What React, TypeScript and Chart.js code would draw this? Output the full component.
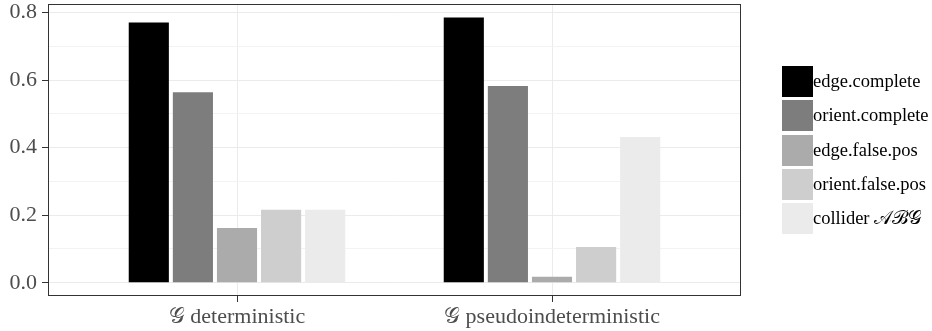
import React, { useEffect, useRef } from 'react';
import { Chart, registerables } from 'chart.js';

Chart.register(...registerables);

const categories = ['𝒢 deterministic', '𝒢 pseudoindeterministic'];
const seriesNames = ['edge.complete', 'orient.complete', 'edge.false.pos', 'orient.false.pos', 'collider 𝒜ℬ𝒢'];
const edgeComplete = [0.770, 0.785];
const orientComplete = [0.564, 0.582];
const edgeFalsePos = [0.162, 0.018];
const orientFalsePos = [0.216, 0.106];
const colliderABG = [0.216, 0.431];
const seriesColors = ['#000000', '#7d7d7d', '#ababab', '#cecece', '#ebebeb'];
const yMajorTicks = [0, 0.2, 0.4, 0.6, 0.8];
const yMinorTicks = [0.1, 0.3, 0.5, 0.7];

const FONT = '"Liberation Serif", "DejaVu Serif", serif';

const isMajor = (v: number) => yMajorTicks.some((m) => Math.abs(m - v) < 1e-6);

const panelAndLegend = {
  id: 'panelAndLegend',
  afterDraw(chart: any) {
    const { ctx, chartArea: ca } = chart;
    ctx.save();
    // panel border
    ctx.strokeStyle = '#333333';
    ctx.lineWidth = 1;
    ctx.strokeRect(Math.round(ca.left) + 0.5, Math.round(ca.top) + 0.5,
      Math.round(ca.right - ca.left) - 1, Math.round(ca.bottom - ca.top) - 1);
    // legend
    const key = 31;
    const gap = 3.3;
    const n = chart.data.datasets.length;
    const total = n * key + (n - 1) * gap;
    const x0 = ca.right + 41;
    const y0 = (ca.top + ca.bottom) / 2 - total / 2;
    ctx.font = `18.5px ${FONT}`;
    ctx.textBaseline = 'middle';
    ctx.textAlign = 'left';
    chart.data.datasets.forEach((ds: any, i: number) => {
      const y = Math.round(y0 + i * (key + gap));
      ctx.fillStyle = ds.backgroundColor;
      ctx.fillRect(x0, y, key, key);
      ctx.fillStyle = '#000000';
      ctx.fillText(ds.label, x0 + key, y + key / 2 + 1);
    });
    ctx.restore();
  },
};

export default function App() {
  const ref = useRef<HTMLCanvasElement | null>(null);
  useEffect(() => {
    const canvas = ref.current;
    if (!canvas) return;
    const seriesValues = [edgeComplete, orientComplete, edgeFalsePos, orientFalsePos, colliderABG];
    const chart = new Chart(canvas, {
      type: 'bar',
      data: {
        datasets: seriesValues.map((vals, i) => ({
          label: seriesNames[i],
          data: vals.map((v, j) => ({ x: j + 1, y: v })),
          backgroundColor: seriesColors[i],
          borderWidth: 0,
          categoryPercentage: 0.7,
          barPercentage: 0.91,
        })),
      },
      options: {
        animation: false,
        responsive: false,
        devicePixelRatio: 1,
        layout: { padding: { top: 4, right: 191, left: 0, bottom: 0 } },
        plugins: { legend: { display: false }, tooltip: { enabled: false } },
        scales: {
          x: {
            type: 'linear',
            bounds: 'data',
            offset: false,
            min: 0.4,
            max: 2.6,
            afterBuildTicks: (s: any) => {
              s.ticks = categories.map((_, j) => ({ value: j + 1 }));
            },
            afterFit: (s: any) => {
              s.height = 35;
              s.paddingLeft = 0;
              s.paddingRight = 0;
            },
            ticks: {
              callback: (v: any) => categories[Math.round(Number(v)) - 1] ?? '',
              font: { family: FONT, size: 22 },
              color: '#4d4d4d',
              padding: 2,
              autoSkip: false,
              maxRotation: 0,
            },
            grid: { offset: false, color: '#ebebeb', lineWidth: 1, tickColor: '#333333', tickLength: 6 },
            border: { display: false },
          },
          y: {
            type: 'linear',
            bounds: 'data',
            min: -0.0393,
            max: 0.825,
            afterBuildTicks: (s: any) => {
              s.ticks = [...yMajorTicks, ...yMinorTicks].sort((a, b) => a - b).map((v) => ({ value: v }));
            },
            afterFit: (s: any) => {
              s.width = 48;
              s.paddingTop = 0;
              s.paddingBottom = 0;
            },
            ticks: {
              callback: (v: any) => (isMajor(Number(v)) ? Number(v).toFixed(1) : ''),
              font: { family: FONT, size: 22 },
              color: '#4d4d4d',
              padding: 5,
              autoSkip: false,
            },
            grid: {
              color: (c: any) => (isMajor(c.tick?.value ?? 0) ? '#ebebeb' : '#f3f3f3'),
              tickColor: (c: any) => (isMajor(c.tick?.value ?? 0) ? '#333333' : 'rgba(0,0,0,0)'),
              lineWidth: 1,
              tickLength: 6,
            },
            border: { display: false },
          },
        },
      },
      plugins: [panelAndLegend],
    } as any);
    return () => chart.destroy();
  }, []);
  return (
    <div style={{ position: 'fixed', left: 0, top: 0, width: 932, height: 331, background: '#ffffff' }}>
      <canvas ref={ref} width={932} height={331} style={{ width: 932, height: 331, display: 'block' }} />
    </div>
  );
}
